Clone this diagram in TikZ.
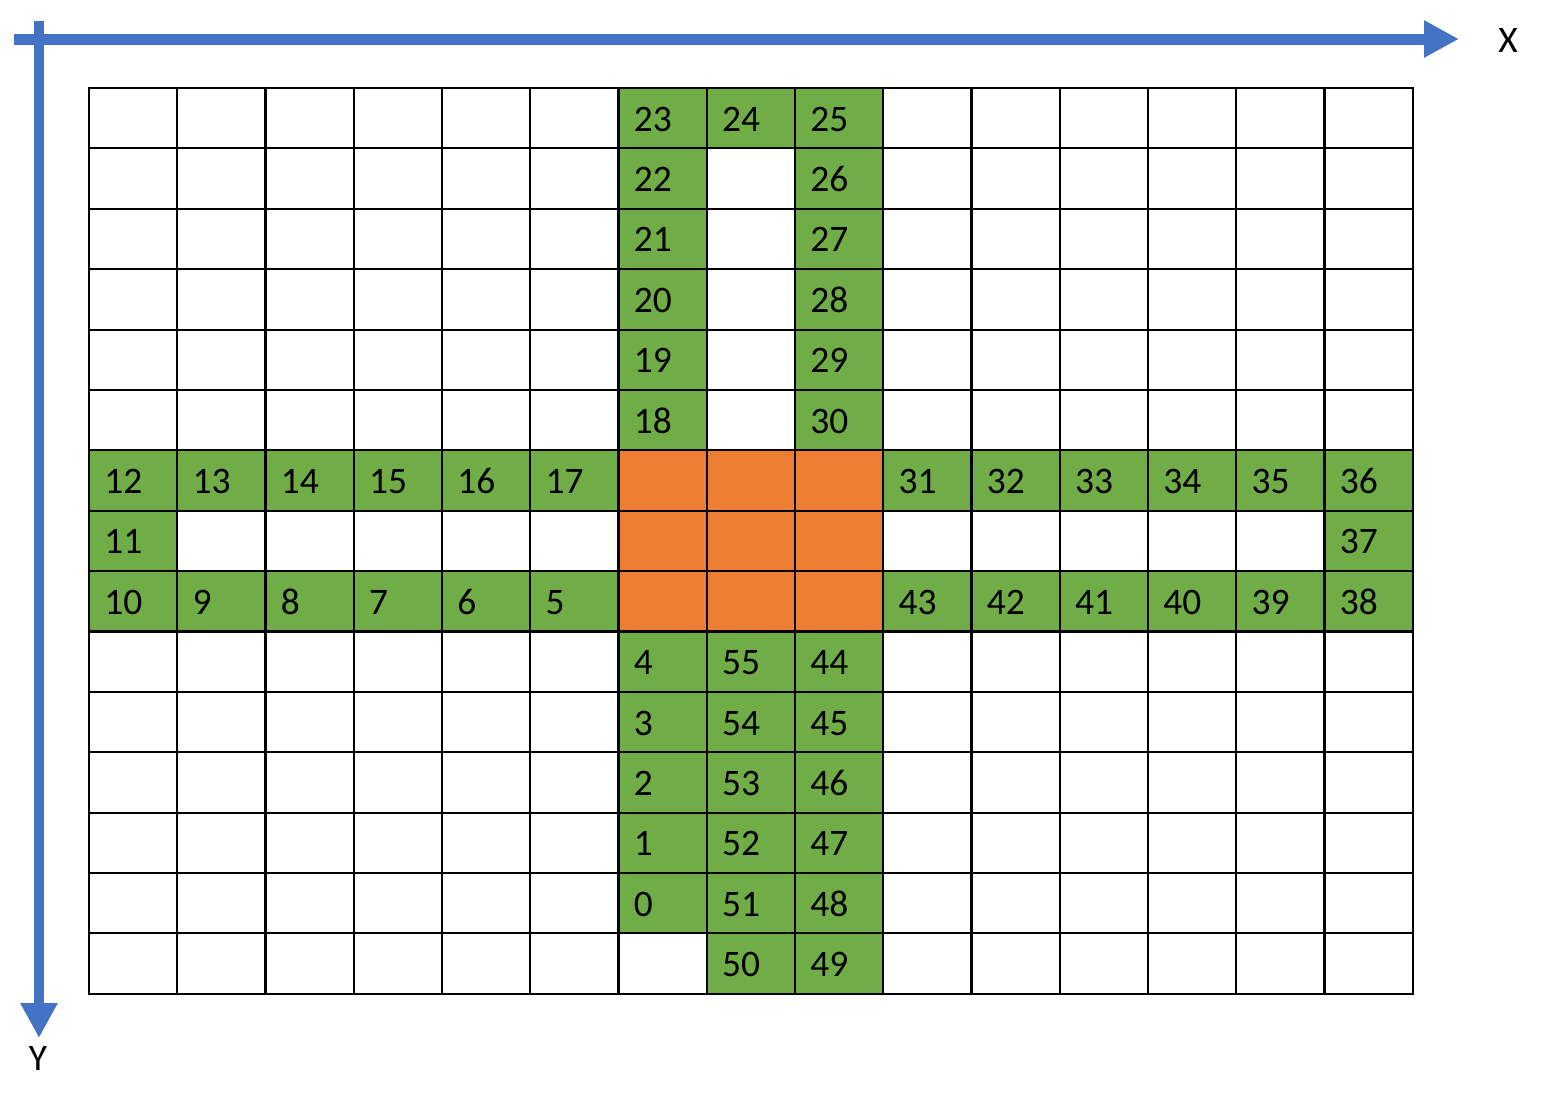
\documentclass[tikz,border=0pt]{standalone}
\usepackage{fontspec}
\setmainfont{Carlito}
\usetikzlibrary{arrows.meta}
\definecolor{axisblue}{HTML}{4472C4}
\definecolor{cellgreen}{HTML}{70AD47}
\definecolor{cellorange}{HTML}{ED7D31}
\begin{document}
\begin{tikzpicture}[x=0.02cm,y=-0.02cm,
    axis/.style={draw=axisblue,line width=0.22cm,-{Triangle[length=0.7cm,width=0.7cm]}},
    cellnum/.style={anchor=base west,inner sep=0pt,font=\fontsize{21.3}{25}\selectfont},
    axisname/.style={inner sep=0pt,font=\fontsize{21.3}{25}\selectfont}]

        \useasboundingbox (0,0) rectangle (1542,1103);

        % axes
        \coordinate (xstart) at (14,39);
        \coordinate (xend)   at (1459,39);
        \coordinate (ystart) at (39,21);
        \coordinate (yend)   at (39,1038);
        \draw[axis] (xstart) -- (xend);
        \draw[axis] (ystart) -- (yend);
        \node[axisname] (xname) at (1508,40) {X};
        \node[axisname] (yname) at (38,1058) {Y};

        % grid of cells
        \begin{scope}[shift={(89,88)},x=1.7654cm,y=-1.208cm]

          \foreach \c/\r in {6/6,7/6,8/6,6/7,7/7,8/7,6/8,7/8,8/8}
            \fill[cellorange] (\c,\r) rectangle ++(1,1);

          \foreach \c/\r/\n in {6/0/23,7/0/24,8/0/25,6/1/22,8/1/26,6/2/21,8/2/27,
                                6/3/20,8/3/28,6/4/19,8/4/29,6/5/18,8/5/30,
                                0/6/12,1/6/13,2/6/14,3/6/15,4/6/16,5/6/17,
                                9/6/31,10/6/32,11/6/33,12/6/34,13/6/35,14/6/36,
                                0/7/11,14/7/37,
                                0/8/10,1/8/9,2/8/8,3/8/7,4/8/6,5/8/5,
                                9/8/43,10/8/42,11/8/41,12/8/40,13/8/39,14/8/38,
                                6/9/4,7/9/55,8/9/44,6/10/3,7/10/54,8/10/45,
                                6/11/2,7/11/53,8/11/46,6/12/1,7/12/52,8/12/47,
                                6/13/0,7/13/51,8/13/48,7/14/50,8/14/49}
          {
            \fill[cellgreen] (\c,\r) rectangle ++(1,1);
            \node[cellnum] (c\n) at (\c+0.17,\r+0.715) {\n};
          }

          \foreach \k in {1,...,14}
          {
            \draw[line width=1.2pt] (\k,0) -- (\k,15);
            \draw[line width=1.2pt] (0,\k) -- (15,\k);
          }
          \draw[line width=1.2pt] (0,0) rectangle (15,15);
        \end{scope}

      \end{tikzpicture}
\end{document}
